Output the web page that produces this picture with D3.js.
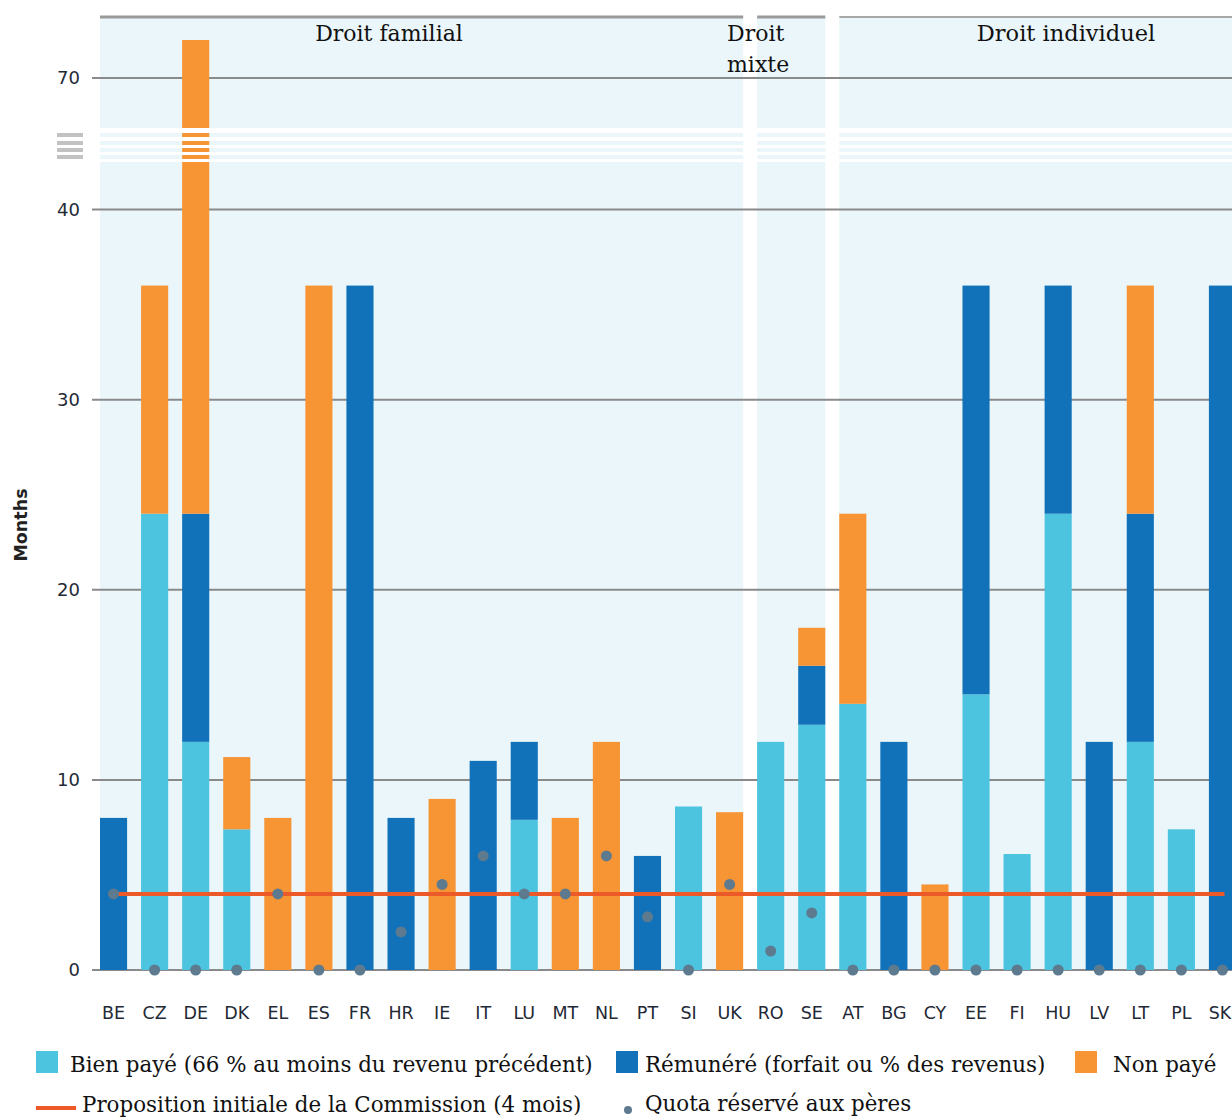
<!DOCTYPE html>
<html><head><meta charset="utf-8">
<script src="https://cdn.jsdelivr.net/npm/d3@7"></script>
<style>html,body{margin:0;padding:0;background:#fff;overflow:hidden}</style>
</head><body>
<svg id="c" width="1232" height="1117"></svg>
<script>
const countries = ["BE","CZ","DE","DK","EL","ES","FR","HR","IE","IT","LU","MT","NL","PT","SI","UK","RO","SE","AT","BG","CY","EE","FI","HU","LV","LT","PL","SK"];
const groupNames = ["Droit familial","Droit mixte","Droit individuel"];
const groupFirst = ["BE","RO","AT"];
const groupLast = ["UK","SE","SK"];
const bienPaye = [0,24,12,7.4,0,0,0,0,0,0,7.9,0,0,0,8.6,0, 12,12.9, 14,0,0,14.5,6.1,24,0,12,7.4,0];
const remunere = [8,0,12,0,0,0,36,8,0,11,4.1,0,0,6,0,0, 0,3.1, 0,12,0,21.5,0,12,12,12,0,36];
const nonPaye  = [0,12,48,3.8,8,36,0,0,9,0,0,8,12,0,0,8.3, 0,2, 10,0,4.5,0,0,0,0,12,0,0];
const quota    = [4,0,0,0,4,0,0,2,4.5,6,4,4,6,2.8,0,4.5, 1,3, 0,0,0,0,0,0,0,0,0,0];
const yTicks = [0,10,20,30,40,70];
const proposal = 4;
const seriesKeys = ["bien","remu","non"];
const seriesLabels = ["Bien payé (66 % au moins du revenu précédent)","Rémunéré (forfait ou % des revenus)","Non payé"];
const colors = {bien:"#4CC4E0", remu:"#1172BA", non:"#F79433"};
const bgColor = "#EAF6F9";

const W = 1232, H = 1117;
const svg = d3.select("#c");
const x = d3.scaleBand().domain(countries).range([100, 1236]).paddingInner(0.34).paddingOuter(0);
const y = d3.scaleLinear().domain([0, 42.5, 67.5, 75]).range([970, 162, 125.5, -17]);
const bw = x.bandwidth();

const rows = countries.map((c,i)=>({c, bien:bienPaye[i], remu:remunere[i], non:nonPaye[i], q:quota[i]}));
const stacked = d3.stack().keys(seriesKeys)(rows);

// break band
const bandTop = 128, bandBot = 162;
const stripes = [[133,137],[141,145],[148,152],[155,159]];
const defs = svg.append("defs");
const cp = defs.append("clipPath").attr("id","brk");
cp.append("rect").attr("x",0).attr("y",-50).attr("width",W).attr("height",bandTop+50);
stripes.forEach(s=>cp.append("rect").attr("x",0).attr("y",s[0]).attr("width",W).attr("height",s[1]-s[0]));
cp.append("rect").attr("x",0).attr("y",bandBot).attr("width",W).attr("height",H);

const plot = svg.append("g").attr("clip-path","url(#brk)");

// group backgrounds
groupNames.forEach((g,i)=>{
  const x0 = x(groupFirst[i]);
  const x1 = i===groupNames.length-1 ? W : x(groupLast[i])+bw;
  plot.append("rect").attr("x",x0).attr("y",18).attr("width",x1-x0).attr("height",y(0)-18).attr("fill",bgColor);
  svg.append("line").attr("x1",x0).attr("x2",x1).attr("y1",17).attr("y2",17)
    .attr("stroke", i===2 ? "#A8A8A8" : "#9A9A9A").attr("stroke-width", i===2?2:3);
});

// gridlines
plot.selectAll("line.grid").data(yTicks).join("line").attr("class","grid")
  .attr("x1",92).attr("x2",W).attr("y1",d=>y(d)).attr("y2",d=>y(d))
  .attr("stroke","#8A8A8A").attr("stroke-width",2);

// bars
stacked.forEach(s=>{
  plot.append("g").selectAll("rect").data(s).join("rect")
    .attr("x",d=>x(d.data.c)).attr("width",bw)
    .attr("y",d=>y(d[1])).attr("height",d=>Math.max(0,y(d[0])-y(d[1])))
    .attr("fill",colors[s.key]);
});

// left break marks
stripes.forEach(s=>svg.append("rect").attr("x",57).attr("y",s[0]).attr("width",26).attr("height",s[1]-s[0]).attr("fill","#C2C2C2"));

// proposal line
svg.append("line").attr("x1",x("BE")+bw/2-5).attr("x2",x("SK")+bw/2+2)
  .attr("y1",y(proposal)).attr("y2",y(proposal)).attr("stroke","#EC5A2A").attr("stroke-width",4);

// quota dots
svg.append("g").selectAll("circle").data(rows).join("circle")
  .attr("cx",d=>x(d.c)+bw/2).attr("cy",d=>y(d.q)).attr("r",5.5).attr("fill","#5D7A8E");

// y tick labels
svg.append("g").selectAll("text").data(yTicks).join("text")
  .attr("x",80).attr("y",d=>y(d)).attr("dy","0.36em").attr("text-anchor","end")
  .attr("font-family","DejaVu Sans").attr("font-size",18).attr("fill","#1f2a36").text(d=>d);

// x labels (keep the last one inside the page)
svg.append("g").selectAll("text").data(countries).join("text")
  .attr("x",d=>Math.min(x(d)+bw/2, W-12)).attr("y",1019).attr("text-anchor","middle")
  .attr("font-family","DejaVu Sans").attr("font-size",17.5).attr("fill","#1f2a36").text(d=>d);

// axis title
svg.append("text").attr("transform","translate(27,525) rotate(-90)").attr("text-anchor","middle")
  .attr("font-family","DejaVu Sans").attr("font-weight","bold").attr("font-size",17.5).attr("fill","#222").text("Months");

// group labels
const serif = "DejaVu Serif";
svg.append("text").attr("x",389).attr("y",41).attr("text-anchor","middle")
  .attr("font-family",serif).attr("font-size",22).attr("fill","#111").text(groupNames[0]);
const gm = svg.append("text").attr("x",727).attr("y",41).attr("font-family",serif).attr("font-size",22).attr("fill","#111");
gm.append("tspan").attr("x",727).text(groupNames[1].split(" ")[0]);
gm.append("tspan").attr("x",727).attr("dy",31).text(groupNames[1].split(" ")[1]);
svg.append("text").attr("x",1066).attr("y",41).attr("text-anchor","middle")
  .attr("font-family",serif).attr("font-size",22.5).attr("fill","#111").text(groupNames[2]);

// legend
const leg = svg.append("g").attr("font-family",serif).attr("font-size",21.4).attr("fill","#111");
const sqX = [36,616,1075], txX = [70,645,1113];
seriesKeys.forEach((k,i)=>{
  leg.append("rect").attr("x",sqX[i]).attr("y",1051).attr("width",22).attr("height",22).attr("fill",colors[k]);
  leg.append("text").attr("x",txX[i]).attr("y",1072).text(seriesLabels[i]);
});
leg.append("line").attr("x1",36).attr("x2",76).attr("y1",1108).attr("y2",1108).attr("stroke","#EC5A2A").attr("stroke-width",4);
leg.append("text").attr("x",82).attr("y",1112).text("Proposition initiale de la Commission (4 mois)");
leg.append("circle").attr("cx",628).attr("cy",1110).attr("r",4).attr("fill","#5D7A8E");
leg.append("text").attr("x",645).attr("y",1111).text("Quota réservé aux pères");
</script>
</body></html>
